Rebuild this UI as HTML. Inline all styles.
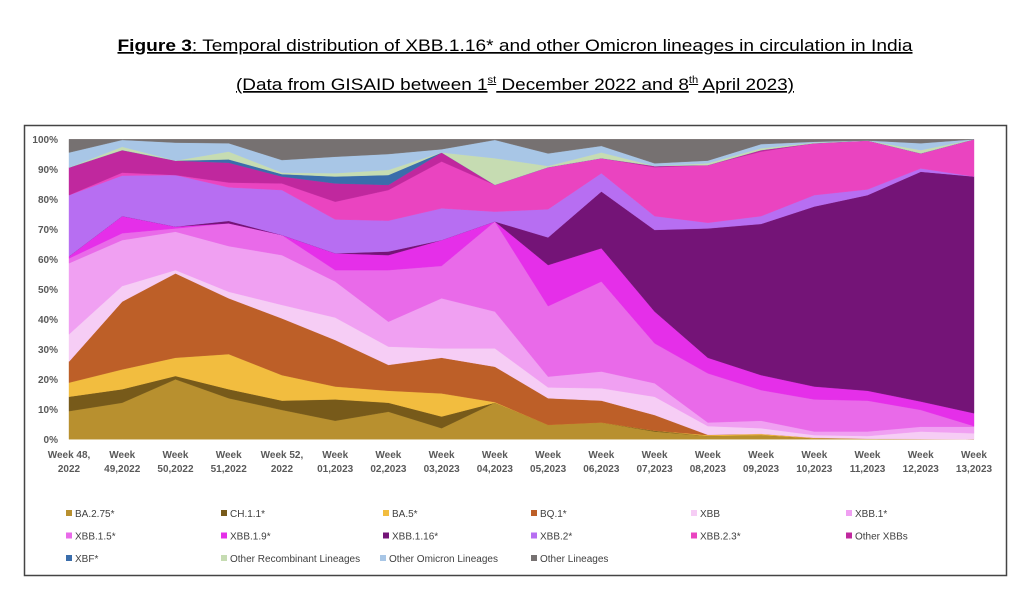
<!DOCTYPE html>
<html><head><meta charset="utf-8"><style>
html,body{margin:0;padding:0;background:#fff;}
svg{display:block;font-family:"Liberation Sans",sans-serif;}
</style></head><body>
<svg id="c" width="1031" height="594" viewBox="0 0 1031 594">
<text x="515" y="51" text-anchor="middle" font-size="17" fill="#000" textLength="795" lengthAdjust="spacingAndGlyphs" text-decoration="underline"><tspan font-weight="bold">Figure 3</tspan>: Temporal distribution of XBB.1.16* and other Omicron lineages in circulation in India</text>
<text x="515" y="90" text-anchor="middle" font-size="17" fill="#000" textLength="558" lengthAdjust="spacingAndGlyphs" text-decoration="underline">(Data from GISAID between 1<tspan font-size="10" dy="-7">st</tspan><tspan dy="7"> December 2022 and 8</tspan><tspan font-size="10" dy="-7">th</tspan><tspan dy="7"> April 2023)</tspan></text>
<rect x="24.5" y="125.5" width="982" height="450" fill="none" stroke="#444" stroke-width="1.5"/>
<g id="areas"></g>
<g id="yax"></g>
<g id="xax"></g>
<g id="leg"></g>
</svg>
<script>
const weeks1 = ["Week 48,","Week","Week","Week","Week 52,","Week","Week","Week","Week","Week","Week","Week","Week","Week","Week","Week","Week","Week"];
const weeks2 = ["2022","49,2022","50,2022","51,2022","2022","01,2023","02,2023","03,2023","04,2023","05,2023","06,2023","07,2023","08,2023","09,2023","10,2023","11,2023","12,2023","13,2023"];
const yTicks = [0,10,20,30,40,50,60,70,80,90,100];
const seriesNames = ["BA.2.75*","CH.1.1*","BA.5*","BQ.1*","XBB","XBB.1*","XBB.1.5*","XBB.1.9*","XBB.1.16*","XBB.2*","XBB.2.3*","Other XBBs","XBF*","Other Recombinant Lineages","Other Omicron Lineages","Other Lineages"];
const ba275 = [9.4,12.2,20,13.7,9.8,6.2,9.2,3.7,12.2,4.8,5.6,2.6,1.1,1.4,0.3,0.2,0.1,0];
const ch11 = [4.8,4.5,1.1,3,3.1,7.1,3,3.9,0,0,0,0.3,0,0,0,0,0,0];
const ba5 = [4.7,6.6,6.1,11.7,8.5,4.3,4,7.7,0.2,0,0,0,0.3,0.4,0.2,0,0,0];
const bq1 = [7,22.6,28.1,18.6,18.9,15.5,8.6,11.9,11.8,8.9,7.3,5.2,0.1,0,0,0,0,0];
const xbb = [9.1,5.2,1.1,2.2,4.5,7.5,6.1,3.1,6.1,3.6,4.1,6.1,2.9,1.9,0.9,0.9,2.5,2];
const xbb1 = [23.7,15.3,12.8,15.2,16.6,12,8.3,16.7,12.3,3.6,5.6,4.5,1.2,2.5,1.2,1.5,1.6,2.2];
const xbb15 = [1.6,2.3,1.1,7.6,6.7,3.8,17.2,10.8,30,23.5,30,13.3,16.4,10.2,10.7,10.3,5.6,0.2];
const xbb19 = [0.7,5.7,0.6,0,0,5.6,5,8.6,0,13.7,11.1,10.6,5.2,5,4.3,3.3,2.8,4.3];
const xbb116 = [0,0,0,0.8,0,0,1.2,0,0,9.2,18.9,27.2,43.1,50.4,60,65.2,76.6,78.9];
const xbb2 = [20.4,13.5,17.2,11.2,15,11.3,10.3,10.6,3.3,9.4,6.1,4.6,1.9,2.6,3.8,1.9,1.1,0];
const xbb23 = [0,1,0,1.6,2.2,5.9,10.2,15.6,8.9,14,5,16.3,19.2,21.5,17.3,16.3,5,12.4];
const otherXbb = [9.2,7.5,4.8,6.6,2.3,6.1,1.7,3,0,0,0,0.4,0,0.5,0,0,0,0];
const xbf = [0,0,0,1.1,0.8,2.3,3.3,0,0,0,0,0,0,0,0,0,0,0];
const recomb = [0,1.1,0,2.6,0.5,1.1,1.7,0,8.9,0.4,1.9,0,0.6,0.6,0.2,0,1.1,0];
const otherOmi = [5,2.3,6,2.8,4.2,5.5,5.3,1.1,6.1,4.2,2.2,0.9,0.9,1.4,0.3,0,2.3,0];
const otherLin = [4.4,0.2,1.1,1.3,6.9,5.8,4.9,3.3,0.2,4.7,2.2,8,7.1,1.6,0.8,0.4,1.3,0];

const series=[ba275,ch11,ba5,bq1,xbb,xbb1,xbb15,xbb19,xbb116,xbb2,xbb23,otherXbb,xbf,recomb,otherOmi,otherLin];
const colors=["#b8902f","#775a1a","#f2bd3f","#bd5f28","#f6cdf5","#f0a0f2","#e96ae9","#e52fe9","#741477","#b76ef2","#ea44c0","#c0289e","#3a6dab","#c6dcb2","#a8c6e6","#767171"];
const NS="http://www.w3.org/2000/svg";
const x0=69,x1=974,yB=439.3,yT=139.3;
const xs=i=>x0+(x1-x0)*i/(weeks2.length-1);
const ys=v=>yB-(yB-yT)*v/100;
function mk(t,a,p){const e=document.createElementNS(NS,t);for(const k in a)e.setAttribute(k,a[k]);p.appendChild(e);return e;}
const areas=document.getElementById('areas');
let cum=weeks2.map(()=>0);
series.forEach((s,k)=>{
  const lo=cum.slice();const hi=cum.map((c,i)=>c+s[i]);
  let d="M"+hi.map((v,i)=>xs(i).toFixed(1)+","+ys(v).toFixed(1)).join("L");
  for(let i=lo.length-1;i>=0;i--)d+="L"+xs(i).toFixed(1)+","+ys(lo[i]).toFixed(1);
  const p=mk('path',{d:d+"Z",fill:colors[k],stroke:colors[k],'stroke-width':0.4},areas);
  
  
  cum=hi;
});
const yax=document.getElementById('yax');
yTicks.forEach(t=>{
  const e=mk('text',{x:58,y:ys(t)+3.5,'text-anchor':'end','font-size':10,'font-weight':'bold',fill:'#595959'},yax);
  e.textContent=t+"%";
  
  
});
const xax=document.getElementById('xax');
weeks2.forEach((w,i)=>{
  const a=mk('text',{x:xs(i),y:458,'text-anchor':'middle','font-size':10,'font-weight':'bold',fill:'#595959'},xax);
  a.textContent=weeks1[i];
  
  
  const b=mk('text',{x:xs(i),y:472,'text-anchor':'middle','font-size':10,'font-weight':'bold',fill:'#595959'},xax);
  b.textContent=w;
  
  
});
const leg=document.getElementById('leg');
const colX=[66,221,383,531,691,846];
const legPos=[[0,0],[1,0],[2,0],[3,0],[4,0],[5,0],[0,1],[1,1],[2,1],[3,1],[4,1],[5,1],[0,2],[1,2],[2,2],[3,2]];
const row3X=[66,221,380,531];
seriesNames.forEach((n,k)=>{
  const [c,r]=legPos[k];
  const x=r===2?row3X[c]:colX[c];const y=514+r*22.5;
  const g=mk('g',{},leg);
  
  
  mk('rect',{x:x,y:y-4,width:6,height:6,fill:colors[k]},g);
  const t=mk('text',{x:x+9,y:y+3,'font-size':10,fill:'#404040'},g);
  t.textContent=n;
});
</script>
</body></html>
